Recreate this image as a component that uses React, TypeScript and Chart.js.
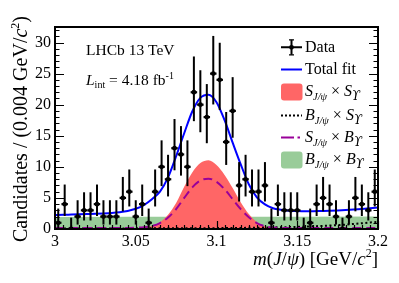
import React, { useEffect, useRef } from 'react';
import { Chart, registerables } from 'chart.js';

Chart.register(...registerables);

// ---------------- data ----------------
const X_MIN = 3.0;
const X_MAX = 3.2;
const Y_MIN = 0;
const Y_MAX = 32.5;

const BIN_LOW = 3.0;
const BIN_WIDTH = 0.004;
const COUNTS = [
  1, 4, 0, 2, 3, 3, 4, 2, 2, 2,
  5, 6, 2, 4, 1, 6, 10, 8, 13, 12,
  10, 22, 20, 18, 25, 24, 14, 19, 7, 8,
  6, 6, 7, 1, 4, 3, 3, 3, 0, 1,
  4, 5, 4, 2, 0, 2, 5, 4, 3, 6,
];

const CURVE_X = [
  3.000, 3.005, 3.010, 3.015, 3.020, 3.025, 3.030, 3.035, 3.040, 3.045,
  3.050, 3.055, 3.060, 3.065, 3.070, 3.075, 3.080, 3.085, 3.090, 3.095,
  3.100, 3.105, 3.110, 3.115, 3.120, 3.125, 3.130, 3.135, 3.140, 3.145,
  3.150, 3.155, 3.160, 3.165, 3.170, 3.175, 3.180, 3.185, 3.190, 3.195,
  3.200,
];
const TOTAL_FIT = [
  2.25, 2.28, 2.32, 2.36, 2.40, 2.44, 2.50, 2.58, 2.70, 2.90,
  3.25, 3.85, 4.80, 6.00, 8.30, 11.7, 15.4, 18.9, 21.1, 21.6,
  20.4, 17.5, 13.9, 10.4, 7.20, 5.10, 3.95, 3.35, 3.10, 2.95,
  2.88, 2.85, 2.86, 2.90, 2.94, 2.99, 3.05, 3.13, 3.22, 3.33,
  3.45,
];
const SIG_SIG = [
  0, 0, 0, 0, 0, 0, 0, 0, 0, 0.03,
  0.08, 0.2, 0.5, 1.1, 2.3, 4.2, 6.8, 9.1, 10.6, 11.05,
  10.3, 8.7, 6.6, 4.3, 2.4, 1.1, 0.42, 0.14, 0.04, 0.01,
  0, 0, 0, 0, 0, 0, 0, 0, 0, 0,
  0,
];
const SIG_BKG = [
  0.15, 0.15, 0.15, 0.15, 0.15, 0.15, 0.15, 0.15, 0.15, 0.17,
  0.2, 0.28, 0.48, 0.95, 1.85, 3.2, 5.0, 6.7, 7.8, 8.1,
  7.6, 6.4, 4.8, 3.2, 1.9, 0.95, 0.45, 0.25, 0.18, 0.16,
  0.15, 0.15, 0.15, 0.15, 0.15, 0.15, 0.15, 0.15, 0.15, 0.15,
  0.15,
];
const BKG_SIG_X = [3.0, 3.05, 3.1, 3.125, 3.15, 3.175, 3.2];
const BKG_SIG = [0.08, 0.1, 0.14, 0.21, 0.35, 0.62, 1.15];
const BKG_BKG_X = [3.0, 3.1, 3.2];
const BKG_BKG = [1.95, 1.98, 2.02];

const X_TICKS = [3.0, 3.05, 3.1, 3.15, 3.2];
const X_TICK_LABELS = ['3', '3.05', '3.1', '3.15', '3.2'];
const Y_TICKS = [0, 5, 10, 15, 20, 25, 30];
const Y_TICK_LABELS = ['0', '5', '10', '15', '20', '25', '30'];

// ---------------- styling ----------------
const SERIF = '"Liberation Serif", "Times New Roman", Times, serif';
const BLUE = '#0000ff';
const RED = '#ff6666';
const GREEN = '#99cc99';
const PURPLE = '#990099';

// Garwood (Poisson) interval via Wilson-Hilferty approximation
function poissonLo(n: number) {
  if (n <= 0) return 0;
  return n * Math.pow(1 - 1 / (9 * n) - 1 / (3 * Math.sqrt(n)), 3);
}
function poissonHi(n: number) {
  const m = n + 1;
  return m * Math.pow(1 - 1 / (9 * m) + 1 / (3 * Math.sqrt(m)), 3);
}

type Seg = { t: string; it?: boolean; s?: number; dy?: number; f?: string };

function drawRich(
  ctx: CanvasRenderingContext2D,
  segs: Seg[],
  x: number,
  y: number,
  size: number,
  align: 'left' | 'right' | 'center' = 'left'
) {
  const fontOf = (g: Seg) => `${g.it ? 'italic ' : ''}${g.s ?? size}px ${g.f ?? SERIF}`;
  let w = 0;
  for (const g of segs) {
    ctx.font = fontOf(g);
    w += ctx.measureText(g.t).width;
  }
  let cx = align === 'left' ? x : align === 'right' ? x - w : x - w / 2;
  ctx.textAlign = 'left';
  ctx.textBaseline = 'alphabetic';
  for (const g of segs) {
    ctx.font = fontOf(g);
    ctx.fillText(g.t, cx, y + (g.dy ?? 0));
    cx += ctx.measureText(g.t).width;
  }
}

const errorBarPlugin = {
  id: 'errorBars',
  afterDatasetsDraw(chart: any) {
    const ctx: CanvasRenderingContext2D = chart.ctx;
    const xs = chart.scales.x;
    const ys = chart.scales.y;
    const area = chart.chartArea;
    ctx.save();
    ctx.beginPath();
    ctx.rect(area.left, area.top, area.right - area.left, area.bottom - area.top);
    ctx.clip();
    ctx.strokeStyle = '#000';
    COUNTS.forEach((n, i) => {
      const lo = BIN_LOW + i * BIN_WIDTH;
      const c = lo + BIN_WIDTH / 2;
      const px = xs.getPixelForValue(c);
      const py = ys.getPixelForValue(n);
      ctx.lineWidth = 2;
      ctx.beginPath();
      ctx.moveTo(px, ys.getPixelForValue(poissonLo(n)));
      ctx.lineTo(px, ys.getPixelForValue(poissonHi(n)));
      ctx.stroke();
      ctx.lineWidth = 2.2;
      ctx.beginPath();
      ctx.moveTo(xs.getPixelForValue(lo), py);
      ctx.lineTo(xs.getPixelForValue(lo + BIN_WIDTH), py);
      ctx.stroke();
    });
    ctx.restore();
  },
};

const framePlugin = {
  id: 'frame',
  afterDatasetsDraw(chart: any) {
    const ctx: CanvasRenderingContext2D = chart.ctx;
    const xs = chart.scales.x;
    const ys = chart.scales.y;
    const a = chart.chartArea;
    ctx.save();
    ctx.strokeStyle = '#000';
    ctx.lineWidth = 1.2;
    for (let v = 0; v <= 32; v += 1) {
      const major = v % 5 === 0;
      const len = major ? 9 : 4.5;
      const py = Math.round(ys.getPixelForValue(v)) + 0.5;
      ctx.beginPath();
      ctx.moveTo(a.left, py);
      ctx.lineTo(a.left + len, py);
      ctx.moveTo(a.right, py);
      ctx.lineTo(a.right - len, py);
      ctx.stroke();
    }
    for (let k = 0; k <= 40; k++) {
      const v = X_MIN + k * 0.005;
      const major = k % 10 === 0;
      const len = major ? 8 : 4;
      const px = Math.round(xs.getPixelForValue(v)) + 0.5;
      ctx.beginPath();
      ctx.moveTo(px, a.bottom);
      ctx.lineTo(px, a.bottom - len);
      ctx.stroke();
    }
    ctx.lineWidth = 2;
    ctx.strokeRect(a.left, a.top, a.right - a.left, a.bottom - a.top);
    ctx.restore();
  },
};

const UPS = 'ϒ';

const textPlugin = {
  id: 'texts',
  afterDraw(chart: any) {
    const ctx: CanvasRenderingContext2D = chart.ctx;
    ctx.save();
    ctx.fillStyle = '#000';
    drawRich(ctx, [{ t: 'LHCb 13 TeV' }], 86, 55, 15.5);
    drawRich(
      ctx,
      [
        { t: 'L', it: true },
        { t: 'int', s: 10, dy: 3 },
        { t: ' = 4.18 fb' },
        { t: '-1', s: 10, dy: -6 },
      ],
      86,
      85,
      15.5
    );
    drawRich(
      ctx,
      [
        { t: 'm', it: true },
        { t: '(' },
        { t: 'J', it: true },
        { t: '/' },
        { t: 'ψ', it: true },
        { t: ') [GeV/' },
        { t: 'c', it: true },
        { t: '2', s: 12, dy: -8 },
        { t: ']' },
      ],
      378,
      265,
      19,
      'right'
    );
    ctx.save();
    ctx.translate(26.5, 129);
    ctx.rotate(-Math.PI / 2);
    drawRich(
      ctx,
      [
        { t: 'Candidates / (0.004 GeV/' },
        { t: 'c', it: true },
        { t: '2', s: 12, dy: -8 },
        { t: ')' },
      ],
      0,
      0,
      20,
      'center'
    );
    ctx.restore();

    // Legend
    const x0 = 281;
    const x1 = 302;
    const xm = (x0 + x1) / 2;
    const tx = 305;
    const cy = [47.3, 69.5, 92, 115.5, 137.5, 160];
    const by = cy.map((c) => c + 4.3);
    ctx.lineCap = 'butt';
    ctx.strokeStyle = '#000';
    ctx.lineWidth = 2;
    ctx.beginPath();
    ctx.moveTo(x0, cy[0]);
    ctx.lineTo(x1, cy[0]);
    ctx.moveTo(xm, cy[0] - 7.5);
    ctx.lineTo(xm, cy[0] + 7.5);
    ctx.stroke();
    ctx.lineWidth = 1.3;
    ctx.beginPath();
    ctx.moveTo(xm - 2.5, cy[0] - 7.5);
    ctx.lineTo(xm + 2.5, cy[0] - 7.5);
    ctx.moveTo(xm - 2.5, cy[0] + 7.5);
    ctx.lineTo(xm + 2.5, cy[0] + 7.5);
    ctx.stroke();
    ctx.beginPath();
    ctx.arc(xm, cy[0], 2.4, 0, Math.PI * 2);
    ctx.fill();
    ctx.strokeStyle = BLUE;
    ctx.lineWidth = 2;
    ctx.beginPath();
    ctx.moveTo(x0, cy[1]);
    ctx.lineTo(x1, cy[1]);
    ctx.stroke();
    ctx.fillStyle = RED;
    ctx.beginPath();
    (ctx as any).roundRect(x0, cy[2] - 8.5, x1 - x0 + 0.5, 17, 3);
    ctx.fill();
    ctx.strokeStyle = '#000';
    ctx.setLineDash([2, 2]);
    ctx.beginPath();
    ctx.moveTo(x0, cy[3]);
    ctx.lineTo(x1, cy[3]);
    ctx.stroke();
    ctx.setLineDash([]);
    ctx.strokeStyle = PURPLE;
    ctx.beginPath();
    ctx.moveTo(x0, cy[4]);
    ctx.lineTo(x0 + 13, cy[4]);
    ctx.moveTo(x0 + 16.5, cy[4]);
    ctx.lineTo(x0 + 19, cy[4]);
    ctx.stroke();
    ctx.fillStyle = GREEN;
    ctx.beginPath();
    (ctx as any).roundRect(x0, cy[5] - 8.5, x1 - x0 + 0.5, 17, 3);
    ctx.fill();

    ctx.fillStyle = '#000';
    const LS = 16;
    const sub = (t: string): Seg => ({ t, it: true, s: 10.5, dy: 4 });
    const subU = (): Seg => ({ t: UPS, it: true, s: 12, dy: 4, f: '"DejaVu Serif", serif' });
    drawRich(ctx, [{ t: 'Data' }], tx, by[0], LS);
    drawRich(ctx, [{ t: 'Total fit' }], tx, by[1], LS);
    drawRich(ctx, [{ t: 'S', it: true }, sub('J/ψ'), { t: ' × ' }, { t: 'S', it: true }, subU()], tx, by[2], LS);
    drawRich(ctx, [{ t: 'B', it: true }, sub('J/ψ'), { t: ' × ' }, { t: 'S', it: true }, subU()], tx, by[3], LS);
    drawRich(ctx, [{ t: 'S', it: true }, sub('J/ψ'), { t: ' × ' }, { t: 'B', it: true }, subU()], tx, by[4], LS);
    drawRich(ctx, [{ t: 'B', it: true }, sub('J/ψ'), { t: ' × ' }, { t: 'B', it: true }, subU()], tx, by[5], LS);
    ctx.restore();
  },
};

export default function App() {
  const canvasRef = useRef<HTMLCanvasElement | null>(null);

  useEffect(() => {
    const canvas = canvasRef.current;
    if (!canvas) return;

    const xy = (xs: number[], ys: number[]) => xs.map((x, i) => ({ x, y: ys[i] }));
    const dataPoints = COUNTS.map((n, i) => ({ x: BIN_LOW + (i + 0.5) * BIN_WIDTH, y: n }));

    const curve = (label: string, xs: number[], ys: number[], extra: any) => ({
      type: 'line',
      label,
      data: xy(xs, ys),
      showLine: true,
      pointRadius: 0,
      cubicInterpolationMode: 'monotone',
      ...extra,
    });

    const chart = new Chart(canvas, {
      type: 'scatter',
      data: {
        datasets: [
          {
            label: 'Data',
            data: dataPoints,
            pointRadius: 2.4,
            pointBackgroundColor: '#000',
            pointBorderWidth: 0,
            showLine: false,
          },
          curve('Total fit', CURVE_X, TOTAL_FIT, { borderColor: BLUE, borderWidth: 2, fill: false }),
          curve('S×B', CURVE_X, SIG_BKG, {
            borderColor: PURPLE,
            borderWidth: 2,
            borderDash: [9, 5],
            fill: false,
          }),
          curve('B×S', BKG_SIG_X, BKG_SIG, {
            borderColor: '#000',
            borderWidth: 2,
            borderDash: [2, 2.5],
            fill: false,
          }),
          curve('S×S', CURVE_X, SIG_SIG, {
            borderWidth: 0,
            borderColor: 'rgba(0,0,0,0)',
            backgroundColor: RED,
            fill: 'origin',
          }),
          curve('B×B', BKG_BKG_X, BKG_BKG, {
            borderWidth: 0,
            borderColor: 'rgba(0,0,0,0)',
            backgroundColor: GREEN,
            fill: 'origin',
          }),
        ] as any,
      },
      options: {
        animation: false,
        responsive: false,
        maintainAspectRatio: false,
        devicePixelRatio: 1,
        layout: { padding: { left: 0, right: 21, top: 27, bottom: 0 } },
        plugins: {
          legend: { display: false },
          tooltip: { enabled: false },
          title: { display: false },
        },
        scales: {
          x: {
            type: 'linear',
            min: X_MIN,
            max: X_MAX,
            afterBuildTicks: (scale: any) => {
              scale.ticks = X_TICKS.map((v) => ({ value: v }));
            },
            afterFit: (scale: any) => {
              scale.height = 54;
            },
            ticks: {
              callback: (_v: any, i: number) => X_TICK_LABELS[i],
              color: '#000',
              font: { family: SERIF, size: 16 },
              padding: 3,
              maxRotation: 0,
              autoSkip: false,
            },
            grid: { display: false, drawTicks: false },
            border: { display: false },
          },
          y: {
            type: 'linear',
            min: Y_MIN,
            max: Y_MAX,
            afterBuildTicks: (scale: any) => {
              scale.ticks = Y_TICKS.map((v) => ({ value: v }));
            },
            afterFit: (scale: any) => {
              scale.width = 55;
            },
            ticks: {
              callback: (_v: any, i: number) => Y_TICK_LABELS[i],
              color: '#000',
              font: { family: SERIF, size: 16 },
              padding: 4,
              autoSkip: false,
            },
            grid: { display: false, drawTicks: false },
            border: { display: false },
          },
        },
      } as any,
      plugins: [errorBarPlugin, framePlugin, textPlugin],
    });

    return () => chart.destroy();
  }, []);

  return (
    <div style={{ position: 'fixed', left: 0, top: 0, width: 399, height: 283, background: '#fff' }}>
      <canvas ref={canvasRef} width={399} height={283} style={{ display: 'block', width: 399, height: 283 }} />
    </div>
  );
}
